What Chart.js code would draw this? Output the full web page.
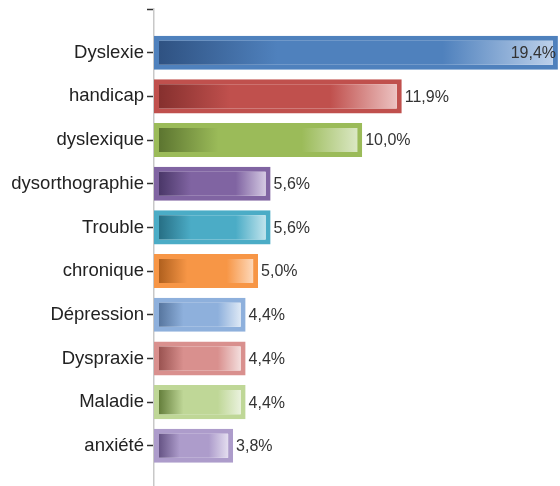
<!DOCTYPE html>
<html lang="fr">

<head>
    <meta charset="UTF-8">
    <title>Mots-clés</title>
    <script src="https://cdn.jsdelivr.net/npm/chart.js@4.4.0/dist/chart.umd.min.js"></script>
    <style>
        html, body { margin: 0; padding: 0; background: #fff; }
        #wrap { width: 560px; height: 486px; }
    </style>
</head>

<body>
    <div id="wrap">
        <canvas id="myChart"></canvas>
    </div>

    <script>
        // data
        const categories = ['Dyslexie', 'handicap', 'dyslexique', 'dysorthographie', 'Trouble',
            'chronique', 'Dépression', 'Dyspraxie', 'Maladie', 'anxiété'];
        const percents = [19.4, 11.9, 10.0, 5.6, 5.6, 5.0, 4.4, 4.4, 4.4, 3.8];

        // [border/base, dark, light] for each bar
        const palette = [
            ['#4f81bd', '#2f5282', '#bcd0ea'],
            ['#c0504d', '#86302e', '#ecc2c1'],
            ['#9bbb59', '#5c7530', '#dae7c3'],
            ['#8064a2', '#4a3768', '#d3c8e2'],
            ['#4bacc6', '#276f85', '#bfe3ec'],
            ['#f79646', '#b0601e', '#fdd8b9'],
            ['#8eb0dc', '#57769f', '#dde8f5'],
            ['#d9908e', '#9a5351', '#f3dddc'],
            ['#bfd797', '#657f3c', '#e9f1dc'],
            ['#ad9ccb', '#665485', '#e3ddef']
        ];
        const bw = 5;

        function barFill(ctx) {
            const chart = ctx.chart;
            const xs = chart.scales.x;
            const c = palette[ctx.dataIndex % palette.length];
            if (!chart.chartArea || !xs) return c[0];
            const x0 = xs.getPixelForValue(0) + bw;
            const x1 = xs.getPixelForValue(percents[ctx.dataIndex]) - bw;
            const g = chart.ctx.createLinearGradient(x0, 0, Math.max(x1, x0 + 1), 0);
            g.addColorStop(0, c[1]);
            g.addColorStop(0.3, c[0]);
            g.addColorStop(0.72, c[0]);
            g.addColorStop(1, c[2]);
            return g;
        }

        const valueLabels = {
            id: 'valueLabels',
            afterDatasetsDraw(chart) {
                const ctx = chart.ctx;
                const meta = chart.getDatasetMeta(0);
                ctx.save();
                ctx.font = '16px "Liberation Sans", Arial, sans-serif';
                ctx.fillStyle = '#333';
                ctx.textBaseline = 'middle';
                meta.data.forEach((bar, i) => {
                    const txt = percents[i].toFixed(1).replace('.', ',') + '%';
                    const w = ctx.measureText(txt).width;
                    let x = bar.x + 3;
                    if (x + w > chart.width - 2) {
                        ctx.textAlign = 'right';
                        x = chart.width - 4;
                    } else {
                        ctx.textAlign = 'left';
                    }
                    ctx.fillText(txt, x, bar.y + 1);
                });
                ctx.restore();
            }
        };

        const ctx = document.getElementById('myChart').getContext('2d');
        const barChart = new Chart(ctx, {
            type: 'bar',
            data: {
                datasets: [{
                    data: percents.map((v, i) => ({ x: v, y: i })),
                    backgroundColor: barFill,
                    borderColor: categories.map((c, i) => palette[i][0]),
                    borderWidth: bw,
                    borderSkipped: false,
                    barPercentage: 0.78,
                    categoryPercentage: 1
                }]
            },
            plugins: [valueLabels],
            options: {
                indexAxis: 'y',
                responsive: true,
                maintainAspectRatio: false,
                animation: false,
                layout: { padding: { top: 9, right: 0, bottom: 0, left: 0 } },
                plugins: {
                    legend: { display: false },
                    tooltip: { enabled: false }
                },
                scales: {
                    x: {
                        type: 'linear',
                        display: false,
                        min: 0,
                        max: 19.5
                    },
                    y: {
                        type: 'linear',
                        reverse: true,
                        offset: false,
                        min: -1,
                        max: 9.92,
                        afterFit: s => { s.width = 154; s.paddingTop = 0; s.paddingBottom = 0; },
                        border: { display: true, color: '#c8c8c8', width: 1.5 },
                        grid: {
                            offset: false,
                            drawOnChartArea: false,
                            drawTicks: true,
                            tickLength: 7,
                            tickWidth: 1.5,
                            tickColor: '#333'
                        },
                        ticks: {
                            stepSize: 1,
                            includeBounds: false,
                            maxTicksLimit: 20,
                            autoSkip: false,
                            padding: 3,
                            color: '#222',
                            font: { family: '"Liberation Sans", Arial, sans-serif', size: 18.5 },
                            callback: v => categories[v] ?? ''
                        }
                    }
                }
            }
        });
    </script>
</body>

</html>
